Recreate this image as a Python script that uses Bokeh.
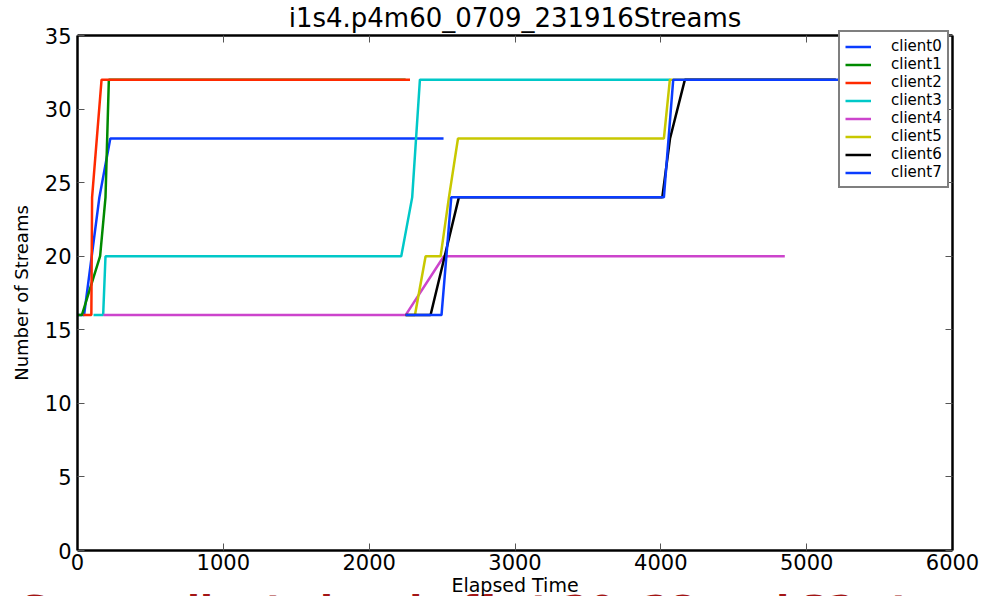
from bokeh.plotting import figure
from bokeh.models import FixedTicker, LinearAxis, Label, Legend, LegendItem
from bokeh.embed import file_html
from bokeh.resources import INLINE

# Stream counts per client over elapsed time
clients = ["client0", "client1", "client2", "client3",
           "client4", "client5", "client6", "client7"]
colors = ["#0a3cff", "#008a00", "#ff2a00", "#00c8c8",
          "#cc44cc", "#c8c800", "#000000", "#0a3cff"]

t0 = [0, 45, 150, 225, 2510]
s0 = [16, 16, 24, 28, 28]
t1 = [0, 30, 155, 192, 215, 2250]
s1 = [16, 16, 20, 24, 32, 32]
t2 = [40, 95, 100, 165, 2280]
s2 = [16, 16, 24, 32, 32]
t3 = [110, 176, 192, 2220, 2295, 2348, 4065]
s3 = [16, 16, 20, 20, 24, 32, 32]
t4 = [178, 2250, 2512, 4850]
s4 = [16, 16, 20, 20]
t5 = [2250, 2314, 2387, 2490, 2547, 2609, 4021, 4062, 5200]
s5 = [16, 16, 20, 20, 24, 28, 28, 32, 32]
t6 = [2250, 2421, 2615, 4010, 4063, 4165, 5200]
s6 = [16, 16, 24, 24, 28, 32, 32]
t7 = [2250, 2496, 2563, 4021, 4085, 5600]
s7 = [16, 16, 24, 24, 32, 32]

times = [t0, t1, t2, t3, t4, t5, t6, t7]
streams = [s0, s1, s2, s3, s4, s5, s6, s7]

x_ticks = [0, 1000, 2000, 3000, 4000, 5000, 6000]
y_ticks = [0, 5, 10, 15, 20, 25, 30, 35]
X_MAX, Y_MAX = 6000, 35

TITLE = "i1s4.p4m60_0709_231916Streams"
CAPTION = "Seven clients level off at 20, 28 and 32 streams"
FONT = "DejaVu Sans"

# The frame fills the whole page. The axes box spans 0..6000 by 0..35
# inside it, leaving room around it for the title, the axis labels and the
# caption that runs off the bottom of the page.
W, H = 984, 596
BOX_L, BOX_R, BOX_T, BOX_B = 77, 952, 35, 550
px_x = (BOX_R - BOX_L) / X_MAX
px_y = (BOX_B - BOX_T) / Y_MAX
x_lo = -BOX_L / px_x
x_hi = X_MAX + (W - BOX_R) / px_x
y_lo = -(H - BOX_B) / px_y
y_hi = Y_MAX + BOX_T / px_y

p = figure(width=W, height=H, output_backend="svg", toolbar_location=None,
           x_range=(x_lo, x_hi), y_range=(y_lo, y_hi),
           min_border_left=0, min_border_right=0,
           min_border_top=0, min_border_bottom=0)
p.background_fill_color = "white"
p.border_fill_color = "white"
p.xgrid.visible = False
p.ygrid.visible = False
p.outline_line_color = None


def style_box_axis(ax, ticks):
    ax.ticker = FixedTicker(ticks=ticks)
    ax.major_tick_in = 7
    ax.major_tick_out = 0
    ax.major_tick_line_color = "#555555"
    ax.minor_tick_line_color = None
    ax.axis_line_color = "black"
    ax.axis_line_width = 2.5


xaxis = p.xaxis[0]
yaxis = p.yaxis[0]
style_box_axis(xaxis, x_ticks)
style_box_axis(yaxis, y_ticks)
xaxis.fixed_location = 0
xaxis.bounds = (0, X_MAX)
yaxis.fixed_location = 0
yaxis.bounds = (0, Y_MAX)
for ax in (xaxis, yaxis):
    ax.major_label_text_font = FONT
    ax.major_label_text_font_size = "21px"
    ax.major_label_text_color = "black"
    ax.axis_label_text_font = FONT
    ax.axis_label_text_font_style = "normal"
    ax.axis_label_text_color = "black"

xaxis.axis_label = "Elapsed Time"
xaxis.axis_label_text_font_size = "19px"
xaxis.major_label_standoff = 3
xaxis.axis_label_standoff = 1
yaxis.axis_label = "Number of Streams"
yaxis.axis_label_text_font_size = "18px"
yaxis.major_label_standoff = 6
yaxis.axis_label_standoff = 10

# top and right edges of the box, with inward ticks and no labels
top = LinearAxis(bounds=(0, X_MAX), fixed_location=Y_MAX)
right = LinearAxis(bounds=(0, Y_MAX), fixed_location=X_MAX)
for ax, ticks in ((top, x_ticks), (right, y_ticks)):
    style_box_axis(ax, ticks)
    ax.major_label_overrides = {t: "" for t in ticks}
    ax.major_label_standoff = 0
p.add_layout(top, "above")
p.add_layout(right, "right")

items = []
for name, col, t, s in zip(clients, colors, times, streams):
    r = p.line(t, s, line_color=col, line_width=2.5)
    items.append(LegendItem(label=name, renderers=[r]))

legend = Legend(items=items, location=(838, 408))
legend.label_text_font = FONT
legend.label_text_font_size = "15px"
legend.label_text_color = "black"
legend.label_height = 17
legend.glyph_height = 17
legend.glyph_width = 26
legend.label_standoff = 20
legend.spacing = 0
legend.padding = 5
legend.margin = 0
legend.border_line_color = "black"
legend.border_line_width = 2
legend.background_fill_color = "white"
legend.background_fill_alpha = 1
p.add_layout(legend, "center")

# chart title, centred over the axes box
title = Label(x=(BOX_L + BOX_R) / 2, y=H - 17, x_units="screen", y_units="screen",
              text=TITLE, text_font=FONT, text_font_size="26px",
              text_color="black", text_align="center", text_baseline="middle")
p.add_layout(title)

# caption running off the bottom edge of the page, behind the axis text
note = Label(x=20, y=10, x_units="screen", y_units="screen", level="underlay",
             text=CAPTION, text_font=FONT, text_font_style="bold",
             text_font_size="38px", text_color="#a31515",
             text_baseline="top", text_align="left")
p.add_layout(note)

open("out.html", "w").write(file_html(p, INLINE))
